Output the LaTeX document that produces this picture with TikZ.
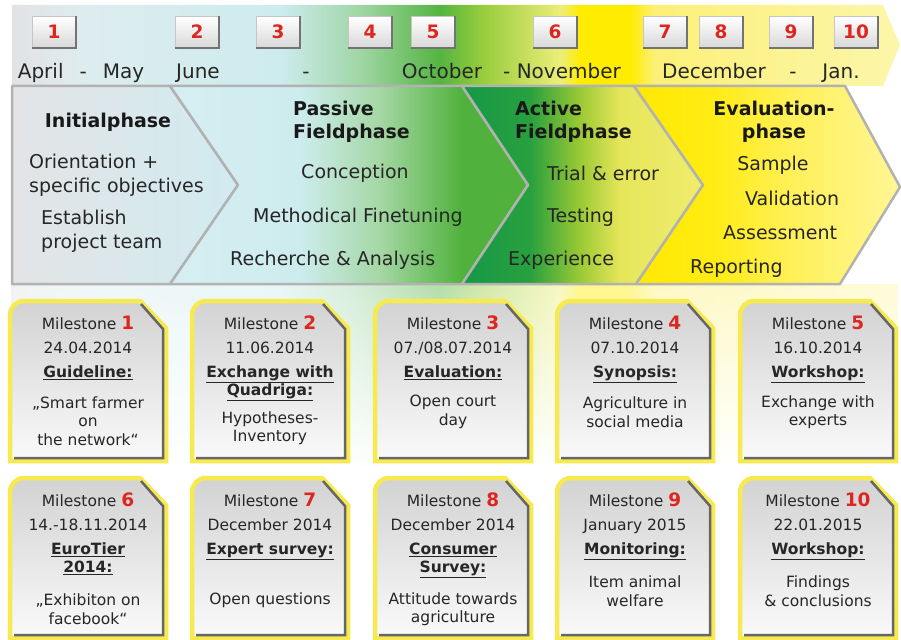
\documentclass[tikz,border=0pt]{standalone}
\usepackage{fontspec}
\setmainfont{DejaVu Sans}
\usetikzlibrary{positioning,fadings}

\definecolor{msred}{RGB}{222,38,32}
\definecolor{cardyellow}{RGB}{246,234,80}
\definecolor{bgA}{RGB}{226,226,228}
\definecolor{bgB}{RGB}{222,236,238}
\definecolor{bgC}{RGB}{205,236,238}
\definecolor{bgD}{RGB}{160,214,165}
\definecolor{bgE}{RGB}{85,180,65}
\definecolor{bgF}{RGB}{150,204,60}
\definecolor{bgG}{RGB}{236,238,120}
\definecolor{bgH}{RGB}{255,236,0}
\definecolor{bgI}{RGB}{252,240,120}
\definecolor{bgJ}{RGB}{252,246,170}
\definecolor{grayph}{RGB}{228,228,230}
\definecolor{cyanph}{RGB}{208,235,240}
\definecolor{cyanA}{RGB}{214,238,242}
\definecolor{lgreen}{RGB}{165,215,165}
\definecolor{midgreen}{RGB}{80,178,60}
\definecolor{darkgreen}{RGB}{22,152,72}
\definecolor{greenB}{RGB}{40,160,62}
\definecolor{ygreen}{RGB}{155,202,52}
\definecolor{yelB}{RGB}{230,230,90}
\definecolor{paleyellow}{RGB}{240,236,110}
\definecolor{yelA}{RGB}{255,232,0}
\definecolor{yelC}{RGB}{255,236,20}
\definecolor{yelD}{RGB}{255,240,90}
\definecolor{yelE}{RGB}{255,246,150}

\pgfdeclarehorizontalshading{bandshade}{100bp}{color(0bp)=(bgA); color(25bp)=(bgA); color(28.8bp)=(bgB); color(40.1bp)=(bgC); color(44.6bp)=(bgD); color(49.1bp)=(bgE); color(51.4bp)=(bgF); color(55.9bp)=(bgG); color(57bp)=(bgH); color(59.8bp)=(bgH); color(61.2bp)=(bgI); color(75bp)=(bgJ); color(100bp)=(bgJ)}
\pgfdeclarehorizontalshading{ph2shade}{100bp}{color(0bp)=(cyanA); color(25bp)=(cyanA); color(43.2bp)=(bgC); color(54.3bp)=(lgreen); color(65.8bp)=(midgreen); color(100bp)=(midgreen)}
\pgfdeclarehorizontalshading{ph3shade}{100bp}{color(0bp)=(darkgreen); color(25bp)=(darkgreen); color(39.1bp)=(greenB); color(49.5bp)=(ygreen); color(57.8bp)=(yelB); color(75bp)=(paleyellow); color(100bp)=(paleyellow)}
\pgfdeclarehorizontalshading{ph4shade}{100bp}{color(0bp)=(yelA); color(25bp)=(yelA); color(40bp)=(yelC); color(55bp)=(yelD); color(75bp)=(yelE); color(100bp)=(yelE)}
\tikzfading[name=fadedown, top color=transparent!55, bottom color=transparent!100]

\begin{document}
\begin{tikzpicture}[x=1pt, y=-1pt,
	phase/.style={draw=gray!60, line width=2.5pt, line join=round},
	numbox/.style={rectangle, minimum width=44pt, minimum height=31pt, inner sep=3pt, draw=gray!45, top color=white, bottom color=gray!30, text=msred, font=\fontsize{18.5}{18.5}\selectfont\bfseries},
	numedge/.style={draw=black!55, line width=2pt},
	month/.style={inner sep=0pt, text height=14.5pt, text depth=4.5pt, text=black!85, font=\fontsize{20}{24}\selectfont},
	phtitle/.style={inner sep=0pt, align=left, text=black!90, font=\fontsize{19}{23}\selectfont\bfseries},
	phtext/.style={inner sep=0pt, align=left, text=black!85, font=\fontsize{19}{24}\selectfont},
	card/.style={draw=cardyellow, line width=4.5pt, top color=gray!35, bottom color=gray!4},
	cardedge/.style={draw=black!60, line width=2.5pt},
	mstext/.style={inner sep=0pt, text height=11pt, text depth=3.5pt, text=black!85, font=\fontsize{15.5}{18}\selectfont},
	mstitle/.style={inner sep=0pt, align=center, text=black!85, font=\fontsize{15.5}{18}\selectfont\bfseries},
	msbody/.style={inner sep=0pt, align=center, text=black!85, font=\fontsize{15.5}{18.5}\selectfont}
	]
	\useasboundingbox (0,0) rectangle (901,639);

	\shade[shading=bandshade] (12,5) -- (883,5) -- (900,45) -- (883,86) -- (12,86) -- cycle;
	\shade[shading=bandshade, path fading=fadedown] (12,284) rectangle (900,470);

	\shadedraw[phase, left color=grayph, right color=cyanph] (12,86) -- (170,86) -- (238,185) -- (170,284) -- (12,284) -- cycle;
	\shadedraw[phase, shading=ph2shade] (170,86) -- (462,86) -- (528,185) -- (462,284) -- (170,284) -- (238,185) -- cycle;
	\shadedraw[phase, shading=ph3shade] (462,86) -- (634,86) -- (703,185) -- (636,284) -- (462,284) -- (528,185) -- cycle;
	\shadedraw[phase, shading=ph4shade] (634,86) -- (845,86) -- (900,187) -- (840,284) -- (636,284) -- (703,185) -- cycle;

		\node (initial) [phtitle] at (108,122) {Initialphase};
		\node (orient) [phtext, anchor=west] at (29,175) {Orientation +\\specific objectives};
		\node (team) [phtext, anchor=west] at (41,231.5) {Establish\\project team};

		\node (passive) [phtitle, anchor=west] at (293,121.5) {Passive\\Fieldphase};
		\node (concep) [phtext] at (355,173) {Conception};
		\node (method) [phtext, anchor=west] at (253,217) {Methodical Finetuning};
		\node (recher) [phtext, anchor=west] at (230,260) {Recherche \& Analysis};

		\node (active) [phtitle, anchor=west] at (515,122) {Active\\Fieldphase};
		\node (trial) [phtext, anchor=west] at (547,173) {Trial \& error};
		\node (testing) [phtext, anchor=west] at (547,217) {Testing};
		\node (exper) [phtext, anchor=west] at (508,260) {Experience};

		\node (evalu) [phtitle, align=center] at (774,122) {Evaluation-\\phase};
		\node (sample) [phtext] at (773,165) {Sample};
		\node (valid) [phtext, anchor=west] at (745,198) {Validation};
		\node (assess) [phtext, anchor=west] at (723,233) {Assessment};
		\node (report) [phtext, anchor=west] at (690,268) {Reporting};

	\foreach \n/\x in {1/54,2/197,3/278,4/370,5/433,6/555,7/665,8/721,9/791,10/856} {
		\node (n\n) [numbox] at (\x,32) {\n};
		\draw [numedge] (n\n.north east) -- (n\n.south east) -- (n\n.south west);
	}

		\node (aprmay) [month] at (81,74) {April\hspace{0.8em}-\hspace{0.8em}May};
		\node (june) [month] at (198,74) {June};
		\node (dash1) [month] at (306,74) {-};
		\node (oct) [month] at (442,74) {October};
		\node (nov) [month] at (562,74) {- November};
		\node (dec) [month] at (714,74) {December};
		\node (dash2) [month] at (793,74) {-};
		\node (jan) [month] at (841,74) {Jan.};

	\foreach \i/\cx/\ty/\date/\title/\body/\by in {
		1/88/301/24.04.2014/{\underline{Guideline:}}/{„Smart farmer\\on\\the network“}/421,
		2/270/301/11.06.2014/{\underline{Exchange with}\\\underline{Quadriga:}}/{Hypotheses-\\Inventory}/428,
		3/453/301/{07./08.07.2014}/{\underline{Evaluation:}}/{Open court\\day}/412,
		4/635/301/07.10.2014/{\underline{Synopsis:}}/{Agriculture in\\social media}/412,
		5/818/301/16.10.2014/{\underline{Workshop:}}/{Exchange with\\experts}/412,
		6/88/478/{14.-18.11.2014}/{\underline{EuroTier}\\\underline{2014:}}/{„Exhibiton on\\facebook“}/609,
		7/270/478/December 2014/{\underline{Expert survey:}}/{Open questions}/600,
		8/453/478/December 2014/{\underline{Consumer}\\\underline{Survey:}}/{Attitude towards\\agriculture}/609,
		9/635/478/January 2015/{\underline{Monitoring:}}/{Item animal\\welfare}/591,
		10/818/478/22.01.2015/{\underline{Workshop:}}/{Findings\\\& conclusions}/591} {
		\shadedraw [card] ({\cx-78},{\ty+160}) [rounded corners=14pt] -- ({\cx-78},\ty) [sharp corners] -- ({\cx+52},\ty) -- ({\cx+78},{\ty+27}) -- ({\cx+78},{\ty+160}) -- cycle;
		\draw [cardedge] ({\cx+53},{\ty+3}) -- ({\cx+75},{\ty+28}) -- ({\cx+75},{\ty+157}) -- ({\cx-74},{\ty+157});
		\node (ms\i) [mstext] at (\cx,{\ty+25}) {Milestone {\color{msred}\bfseries\fontsize{18.5}{18.5}\selectfont\i}};
		\node (date\i) [mstext, below=8.5pt of ms\i] {\date};
		\node (title\i) [mstitle, below=9pt of date\i] {\title};
		\node (body\i) [msbody] at (\cx,\by) {\body};
	}

\end{tikzpicture}
\end{document}
